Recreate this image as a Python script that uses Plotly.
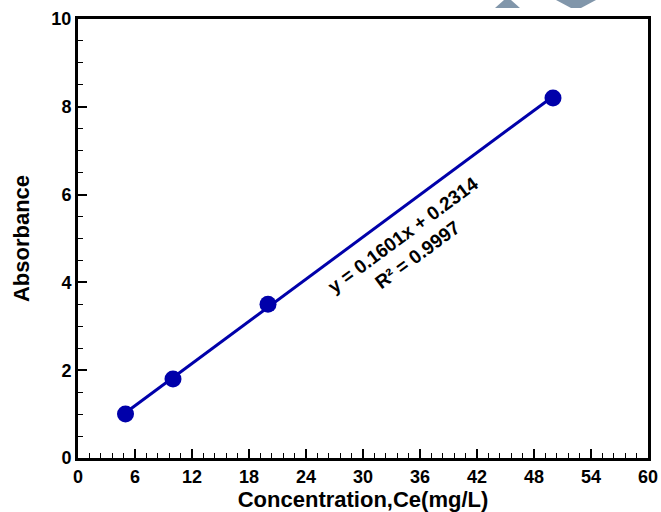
import plotly.graph_objects as go

conc = [5, 10, 20, 50]
absorb = [1.0, 1.8, 3.5, 8.2]
slope = 0.1601
intercept = 0.2314
r2 = 0.9997
x_ticks = [0, 6, 12, 18, 24, 30, 36, 42, 48, 54, 60]
y_ticks = [0, 2, 4, 6, 8, 10]

fit_x = [min(conc), max(conc)]
fit_y = [slope * v + intercept for v in fit_x]

blue = "#0000AA"
font = "Liberation Sans, Arial, sans-serif"

W, H = 661, 512
L, T, R, B = 78, 19, 648, 458  # plot area in window pixels

fig = go.Figure()
fig.add_trace(go.Scatter(x=fit_x, y=fit_y, mode="lines",
                         line=dict(color=blue, width=3), showlegend=False))
fig.add_trace(go.Scatter(x=conc, y=absorb, mode="markers",
                         marker=dict(color=blue, size=17), showlegend=False))

fig.add_annotation(x=35.0, y=4.85, xref="x", yref="y",
                   text=f"<b>y = {slope}x + {intercept}<br>R² = {r2}</b>",
                   textangle=-36.4, showarrow=False, align="center",
                   font=dict(family=font, size=19, color="black"))

def P(px, py):
    return (px - L) / (R - L), (B - py) / (B - T)

def path(pts):
    return "M " + " L ".join(f"{P(a,b)[0]:.4f},{P(a,b)[1]:.4f}" for a, b in pts) + " Z"

fig.add_shape(type="path", xref="paper", yref="paper",
              path=path([(504, 0), (511, 0), (520, 8), (495, 8)]),
              fillcolor="#8196aa", line=dict(width=0), layer="above")
fig.add_shape(type="path", xref="paper", yref="paper",
              path=path([(556, 0), (596, 0), (581, 8), (571, 8)]),
              fillcolor="#8196aa", line=dict(width=0), layer="above")

axis_common = dict(showgrid=False, zeroline=False, showline=True, linecolor="black",
                   linewidth=3, mirror=True, ticks="inside", tickcolor="black",
                   tickwidth=2, ticklen=9,
                   tickfont=dict(family=font, size=18, color="black"))

fig.update_xaxes(range=[0, 60], tickvals=x_ticks, ticktext=[f"<b>{v}</b>" for v in x_ticks],
                 minor=dict(dtick=1.2, ticks="inside", ticklen=5, tickwidth=1, tickcolor="black"),
                 title=dict(text="<b>Concentration,Ce(mg/L)</b>", standoff=0,
                            font=dict(family=font, size=22, color="black")),
                 **axis_common)
fig.update_yaxes(range=[0, 10], tickvals=y_ticks, ticktext=[f"<b>{v}</b>" for v in y_ticks],
                 minor=dict(dtick=0.5, ticks="inside", ticklen=5, tickwidth=1, tickcolor="black"),
                 title=dict(text="<b>Absorbance</b>", standoff=16,
                            font=dict(family=font, size=22, color="black")),
                 **axis_common)

fig.update_layout(width=W, height=H,
                  margin=dict(l=L, r=W - R, t=T, b=H - B, autoexpand=False),
                  plot_bgcolor="white", paper_bgcolor="white")

fig.write_html("out.html", config={"displayModeBar": False},
               post_script="document.body.style.margin='0';document.body.style.overflow='hidden';")
